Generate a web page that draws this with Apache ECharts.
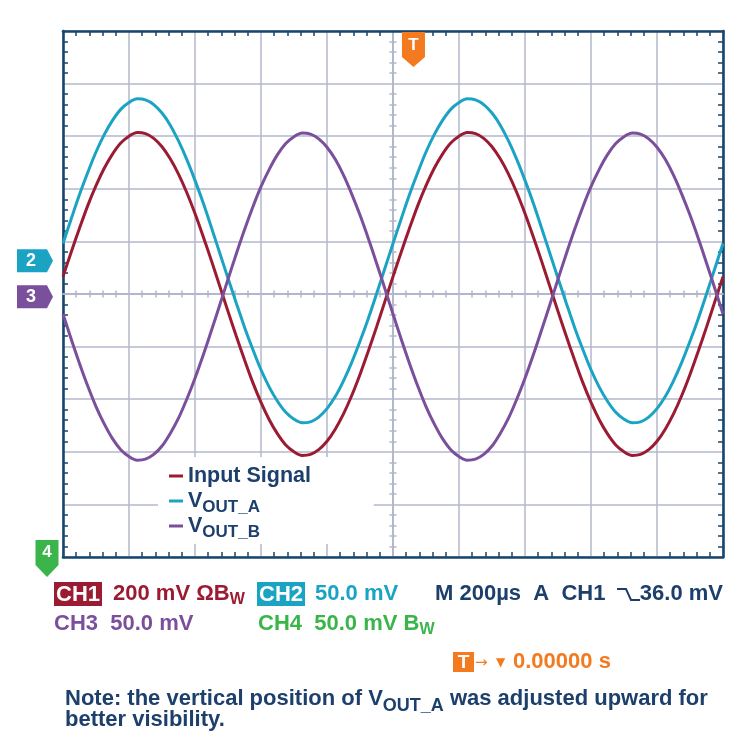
<!DOCTYPE html>
<html><head><meta charset="utf-8">
<script src="https://cdn.jsdelivr.net/npm/echarts@6/dist/echarts.min.js"></script>
<style>html,body{margin:0;padding:0;background:#fff}#c{width:739px;height:746px}</style>
</head><body><div id="c"></div>
<script>
// ---- data (time in µs, trace values in screen divisions) ----
const timeUs = [-1000,-975,-950,-925,-900,-875,-850,-825,-800,-775,-750,-725,-700,-675,-650,-625,-600,-575,-550,-525,-500,-475,-450,-425,-400,-375,-350,-325,-300,-275,-250,-225,-200,-175,-150,-125,-100,-75,-50,-25,0,25,50,75,100,125,150,175,200,225,250,275,300,325,350,375,400,425,450,475,500,525,550,575,600,625,650,675,700,725,750,775,800,825,850,875,900,925,950,975,1000];
const inputSignal = [0.33,0.80,1.25,1.68,2.06,2.39,2.66,2.87,3.00,3.07,3.05,2.96,2.80,2.57,2.28,1.93,1.53,1.09,0.63,0.15,-0.33,-0.80,-1.25,-1.68,-2.06,-2.39,-2.66,-2.87,-3.00,-3.07,-3.05,-2.96,-2.80,-2.57,-2.28,-1.93,-1.53,-1.09,-0.63,-0.15,
  0.33,0.80,1.25,1.68,2.06,2.39,2.66,2.87,3.00,3.07,3.05,2.96,2.80,2.57,2.28,1.93,1.53,1.09,0.63,0.15,-0.33,-0.80,-1.25,-1.68,-2.06,-2.39,-2.66,-2.87,-3.00,-3.07,-3.05,-2.96,-2.80,-2.57,-2.28,-1.93,-1.53,-1.09,-0.63,-0.15,0.33];
const voutA = [0.96,1.43,1.89,2.31,2.70,3.03,3.30,3.51,3.64,3.71,3.69,3.60,3.44,3.21,2.91,2.56,2.16,1.73,1.26,0.78,0.30,-0.17,-0.63,-1.05,-1.44,-1.77,-2.04,-2.25,-2.38,-2.45,-2.43,-2.34,-2.18,-1.95,-1.65,-1.30,-0.90,-0.47,0.00,0.48,
  0.96,1.43,1.89,2.31,2.70,3.03,3.30,3.51,3.64,3.71,3.69,3.60,3.44,3.21,2.91,2.56,2.16,1.73,1.26,0.78,0.30,-0.17,-0.63,-1.05,-1.44,-1.77,-2.04,-2.25,-2.38,-2.45,-2.43,-2.34,-2.18,-1.95,-1.65,-1.30,-0.90,-0.47,0.00,0.48,0.96];
const voutB = [-0.38,-0.86,-1.32,-1.75,-2.14,-2.47,-2.75,-2.96,-3.09,-3.16,-3.14,-3.05,-2.89,-2.65,-2.36,-2.00,-1.60,-1.16,-0.69,-0.21,0.28,0.76,1.22,1.65,2.04,2.37,2.65,2.86,2.99,3.06,3.04,2.95,2.79,2.56,2.26,1.90,1.50,1.06,0.59,0.11,
  -0.38,-0.86,-1.32,-1.75,-2.14,-2.47,-2.75,-2.96,-3.09,-3.16,-3.14,-3.05,-2.89,-2.65,-2.36,-2.00,-1.60,-1.16,-0.69,-0.21,0.28,0.76,1.22,1.65,2.04,2.37,2.65,2.86,2.99,3.06,3.04,2.95,2.79,2.56,2.26,1.90,1.50,1.06,0.59,0.11,-0.38];
const seriesNames = ['Input Signal','VOUT_A','VOUT_B'];
const ch2Offset = 0.63;    // divisions
const ch3Offset = -0.05;   // divisions
const triggerTimeUs = 62;  // trigger position marker
const T_MIN = -1000, T_MAX = 1000, T_STEP = 200;
const V_MIN = -5, V_MAX = 5, V_STEP = 1;

// ---- style ----
const FONT = '"Liberation Sans", Arial, Helvetica, sans-serif';
const NAVY = '#1c3f6c', FRAME = '#17466f', GRIDC = '#b3b7ca';
const RED = '#9b1c32', TEAL = '#1ba3c4', PURPLE = '#7a4f9b', GREEN = '#3bb44a', ORANGE = '#f47a20';

const zip = (xs, ys) => xs.map((x, i) => [x, ys[i]]);

function frameAxis(dim, pos) {
  return {
    type: 'value', position: pos,
    min: dim === 'x' ? T_MIN : V_MIN, max: dim === 'x' ? T_MAX : V_MAX, interval: dim === 'x' ? T_STEP : V_STEP,
    axisLine: { show: true, onZero: false, lineStyle: { color: FRAME, width: 2.6 } },
    axisTick: { show: false, inside: true },
    minorTick: { show: true, splitNumber: 5, length: 5, lineStyle: { color: FRAME, width: 1.5 } },
    axisLabel: { show: false },
    splitLine: { show: pos === 'bottom' || pos === 'left', lineStyle: { color: GRIDC, width: 1.5 } },
    minorSplitLine: { show: false }
  };
}
function centreAxis(dim, inside) {
  return {
    type: 'value', position: dim === 'x' ? 'bottom' : 'left',
    min: dim === 'x' ? T_MIN : V_MIN, max: dim === 'x' ? T_MAX : V_MAX, interval: dim === 'x' ? T_STEP : V_STEP,
    axisLine: { show: true, onZero: true, onZeroAxisIndex: 0, lineStyle: { color: GRIDC, width: 1.5 } },
    axisTick: { show: false, inside: inside },
    minorTick: { show: true, splitNumber: 5, length: 3.5, lineStyle: { color: GRIDC, width: 1.5 } },
    axisLabel: { show: false },
    splitLine: { show: false }
  };
}

// rich styles: main token + subscript shifted down by `shift` px
function subRich(size, subSize, shift, color, lh) {
  return {
    m: { fontSize: size, fontWeight: 'bold', fontFamily: FONT, color: color, fill: color, lineHeight: lh },
    s: { fontSize: subSize, fontWeight: 'bold', fontFamily: FONT, color: color, fill: color, lineHeight: lh - 2 * shift, padding: [2 * shift, 0, 0, 0] }
  };
}

const legendRich = subRich(21.5, 17, 6, NAVY, 22);
const legendLabel = {
  'Input Signal': '{m|Input Signal}{s| }',
  'VOUT_A': '{m|V}{s|OUT_A}',
  'VOUT_B': '{m|V}{s|OUT_B}'
};

const chart = echarts.init(document.getElementById('c'), null, { renderer: 'canvas' });
const option = {
  animation: false,
  backgroundColor: '#ffffff',
  grid: { left: 63, top: 31, width: 660, height: 526, containLabel: false, outerBoundsMode: 'none' },
  xAxis: [frameAxis('x', 'bottom'), frameAxis('x', 'top'), centreAxis('x', true), centreAxis('x', false)],
  yAxis: [frameAxis('y', 'left'), frameAxis('y', 'right'), centreAxis('y', true), centreAxis('y', false)],
  legend: {
    data: seriesNames, orient: 'vertical', left: 158, top: 457,
    padding: [4.5, 58, 3.5, 11], itemGap: -4, backgroundColor: '#ffffff',
    icon: 'rect', itemWidth: 14, itemHeight: 3,
    formatter: name => legendLabel[name],
    textStyle: { rich: legendRich, color: NAVY }
  },
  series: [
    { name: seriesNames[0], data: zip(timeUs, inputSignal), color: RED },
    { name: seriesNames[1], data: zip(timeUs, voutA), color: TEAL },
    { name: seriesNames[2], data: zip(timeUs, voutB), color: PURPLE }
  ].map(s => Object.assign({
    type: 'line', xAxisIndex: 0, yAxisIndex: 0, smooth: 0.3, showSymbol: false, symbol: 'none',
    lineStyle: { width: 3, color: s.color }, itemStyle: { color: s.color }, z: 3
  }, s))
};
chart.setOption(option);

// ---- annotations placed through the chart's own scales ----
const px = (t, v) => chart.convertToPixel({ xAxisIndex: 0, yAxisIndex: 0 }, [t, v]);
const g = [];
function tagRight(val, color, label) {
  const p = px(T_MIN, val); const cx = p[0] - 28, cy = p[1];
  g.push({ type: 'polygon', shape: { points: [[cx - 18, cy - 11.5], [cx + 12, cy - 11.5], [cx + 18, cy], [cx + 12, cy + 11.5], [cx - 18, cy + 11.5]] }, style: { fill: color }, z: 10 });
  g.push({ type: 'text', x: cx - 4, y: cy, style: { text: label, fill: '#fff', fontSize: 18, fontWeight: 'bold', fontFamily: FONT, align: 'center', verticalAlign: 'middle' }, z: 11 });
}
tagRight(ch2Offset, TEAL, '2');
tagRight(ch3Offset, PURPLE, '3');
// trigger marker at the top
(function () {
  const p = px(triggerTimeUs, V_MAX); const x = p[0], y = p[1] + 1;
  g.push({ type: 'polygon', shape: { points: [[x - 11.5, y], [x + 11.5, y], [x + 11.5, y + 25], [x, y + 35], [x - 11.5, y + 25]] }, style: { fill: ORANGE }, z: 10 });
  g.push({ type: 'text', x: x, y: y + 13, style: { text: 'T', fill: '#fff', fontSize: 17, fontWeight: 'bold', fontFamily: FONT, align: 'center', verticalAlign: 'middle' }, z: 11 });
})();
// channel 4 marker (off-screen below) at the bottom left
(function () {
  const p = px(T_MIN, V_MIN); const x = p[0] - 16, y = p[1] - 17;
  g.push({ type: 'polygon', shape: { points: [[x - 11.5, y], [x + 11.5, y], [x + 11.5, y + 25], [x, y + 37], [x - 11.5, y + 25]] }, style: { fill: GREEN }, z: 10 });
  g.push({ type: 'text', x: x, y: y + 12.5, style: { text: '4', fill: '#fff', fontSize: 17, fontWeight: 'bold', fontFamily: FONT, align: 'center', verticalAlign: 'middle' }, z: 11 });
})();

// ---- scope readout texts ----
const FS = 22;
function rtext(x, y, text, color, subSize, shift, extra) {
  const rich = subRich(FS, subSize || 16, shift || 5.5, color, FS + 2);
  rich.box = { fontSize: FS, fontWeight: 'bold', fontFamily: FONT, color: '#fff', fill: '#fff', backgroundColor: color, padding: [2, 2, 0, 2], lineHeight: FS };
  g.push({ type: 'text', x: x, y: y, style: Object.assign({ text: text, rich: rich, fill: color, fontSize: FS, fontWeight: 'bold', fontFamily: FONT, verticalAlign: 'middle', align: 'left' }, extra || {}), z: 5 });
}
rtext(54, 594, '{box|CH1}', RED);
rtext(113, 594, '{m|200 mV ΩB}{s|W}', RED);
rtext(257, 594, '{box|CH2}', TEAL);
rtext(315, 594, '{m|50.0 mV}', TEAL);
rtext(435, 594, '{m|M 200µs  A  CH1}', NAVY);
g.push({ type: 'polyline', shape: { points: [[617, 589], [626, 589], [631, 600], [640, 600]] }, style: { stroke: NAVY, lineWidth: 2, fill: null }, z: 5 });
rtext(723, 594, '{m|36.0 mV}', NAVY, 16, 5.5, { align: 'right' });
rtext(54, 624, '{m|CH3  50.0 mV}', PURPLE);
rtext(258, 624, '{m|CH4  50.0 mV B}{s|W}', GREEN);
// trigger time readout
g.push({ type: 'rect', shape: { x: 453, y: 652, width: 21, height: 20 }, style: { fill: ORANGE }, z: 5 });
g.push({ type: 'text', x: 463.5, y: 662.5, style: { text: 'T', fill: '#fff', fontSize: 19, fontWeight: 'bold', fontFamily: FONT, align: 'center', verticalAlign: 'middle' }, z: 6 });
g.push({ type: 'text', x: 475, y: 663, style: { text: '→', fill: ORANGE, fontSize: 15, fontFamily: '"DejaVu Sans", sans-serif', align: 'left', verticalAlign: 'middle' }, z: 6 });
g.push({ type: 'text', x: 496, y: 663, style: { text: '▼', fill: ORANGE, fontSize: 12, fontFamily: '"DejaVu Sans", sans-serif', align: 'left', verticalAlign: 'middle' }, z: 6 });
rtext(513, 662, '{m|0.00000 s}', ORANGE);
// note
rtext(65, 699, '{m|Note: the vertical position of V}{s|OUT_A}{m| was adjusted upward for}', NAVY, 18, 7);
rtext(65, 720, '{m|better visibility.}', NAVY);

chart.setOption({ graphic: g });
</script>
</body></html>
